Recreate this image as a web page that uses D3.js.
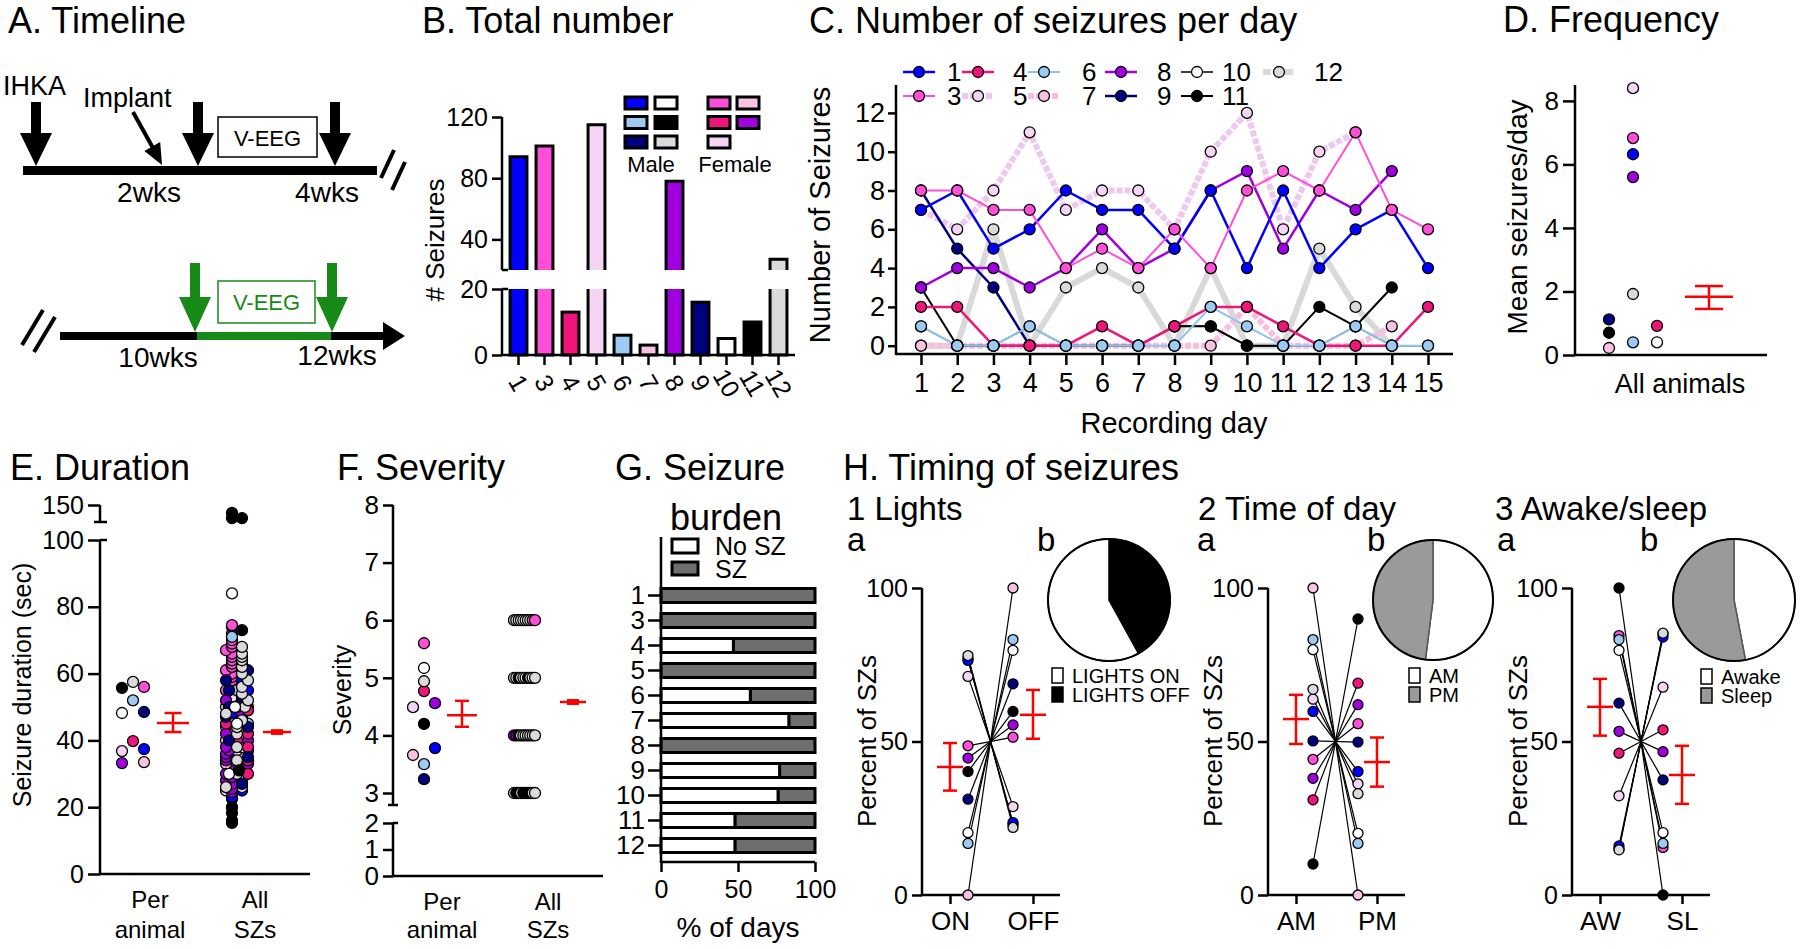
<!DOCTYPE html>
<html>
<head>
<meta charset="utf-8">
<script src="https://cdn.jsdelivr.net/npm/d3@7"></script>
<style>
html,body{margin:0;padding:0;background:#fff;}
svg{display:block;}
</style>
</head>
<body>
<svg id="chart" width="1800" height="949"></svg>
<script>
// ================= DATA =================
const animals = ["1","3","4","5","6","7","8","9","10","11","12"];
const animalColors = ["#0000ff","#ff4fd8","#f0157a","#f4d6f4","#9ccaf2","#f8c2e2","#a000e0","#00007f","#ffffff","#000000","#dadada"];
const maleCol1 = ["1","6","9"], maleCol2 = ["10","11","12"];
const femaleCol1 = ["3","4","5"], femaleCol2 = ["7","8"];

// B. total number of seizures per animal
const totalSeizures = [94,101,13,115,6,3,78,16,5,10,27];
const totalTicksLow = [0,20];
const totalTicksHigh = [40,80,120];

// C. seizures per recording day
const recordingDays = [1,2,3,4,5,6,7,8,9,10,11,12,13,14,15];
const sz1  = [7,8,5,6,8,7,7,5,8,4,8,4,6,7,4];
const sz3  = [8,8,7,7,4,5,4,6,4,8,9,8,11,7,6];
const sz4  = [2,2,0,0,0,1,0,1,2,2,1,0,0,0,2];
const sz5  = [7,6,8,11,7,8,8,6,10,12,6,10,11];
const sz6  = [1,0,0,1,0,0,0,0,2,1,0,0,1,0,0];
const sz7  = [0,0,0,0,0,0,0,0,0,2,0,0,0,1];
const sz8  = [3,4,4,3,4,6,4,5,8,9,5,8,7,9];
const sz9  = [8,5,3,0];
const sz10 = [1,0,0,1,0,0,0,1,1,0,0,0,1,0,0];
const sz11 = [3,0,0,0,0,0,0,1,1,0,0,2,1,3];
const sz12 = [0,0,6,0,3,4,3,0,4,0,0,5,2,0];
const perDayTicks = [0,2,4,6,8,10,12];

// D. mean seizures per day
const freqPerDay = [6.32,6.83,0.92,8.4,0.4,0.22,5.6,1.12,0.4,0.7,1.92];
const freqColumn = [0,0,1,0,0,-1,0,-1,1,-1,0];
const freqMeanSem = [1.83,1.45,2.17];

// E. duration (sec)
const durPerAnimal = [37.4,56.0,39.8,36.8,52,33.5,33.2,48.5,48.2,55.7,57.5];
const durPerAnimalColumn = [1,1,0,-1,0,1,-1,1,-1,-1,0];
const durPerAnimalMeanSem = [45.2,42.5,48.2];
const durAllMeanSem = [42.5,42.0,43.0];
const durAll1  = [22.5,23,25,28,30,31,33,34,35,36,37,38,39,40,41,42,44,46,48,50,52,55,58];
const durAll3  = [40,44,47,50,52,54,55,56,57,58,59,60,61,62,63,64,65,66,67,68,69,70,72,74,74.5];
const durAll4  = [30,34,38,40,42,45,49];
const durAll5  = [26,28,30,32,33,34,35,36,37,38,39,40,41,42,43,44,45,47,50,53];
const durAll6  = [45,50,55,71];
const durAll7  = [25,33,43];
const durAll8  = [24.5,25.5,27,28,29,30,31,32,33,34,35,36,37,38,40,42,45,48,50,52];
const durAll9  = [27,35,40,44,47,50,53,55,58,61,63];
const durAll10 = [30,45,50,84];
const durAll11 = [15.3,16,18.3,20,31,73,127,136,127];
const durAll12 = [26,30,34,38,42,44,46,48,50,52,54,56,58,60,62,64,65,66,68];

// F. severity
const sevPerAnimal = [3.78,5.6,4.77,4.49,3.5,3.66,4.56,3.24,5.17,4.2,4.94];
const sevPerAnimalColumn = [1,0,0,-1,0,-1,1,0,0,0,0];
const sevPerAnimalMeanSem = [4.35,4.15,4.6];
const sevAllMeanSem = [4.58,4.55,4.61];
const sevLevels = [6,5,4,3];
const sevRow6 = ["12","10","12","10","10","12","10","10","3","3"];
const sevRow5 = ["12","10","11","10","12","10","11","12","10","12"];
const sevRow4 = ["8","8","11","10","12","10","12","10","12","12"];
const sevRow3 = ["12","11","11","12","11","11","11","11","12","12"];

// G. seizure burden (% of days without seizures)
const noSzPct = [0,0,47,0,58,83,0,77,76,48,48];

// H. timing
const lightsOnPct  = [76.4,48.6,77,71.2,16.8,0,44.6,31.2,20.3,40.2,78];
const lightsOffPct = [23.6,51.4,23,28.8,83.2,100,55.4,68.8,79.7,59.8,22];
const amPct = [59.8,44.2,31,63.8,83.2,100,38,50.2,79.9,10.1,67];
const pmPct = [40.2,55.8,69,36.2,16.8,0,62,49.8,20.1,89.9,33];
const awakePct = [16,84.5,46.2,32.3,83.2,15,53.3,62.5,79.7,100,14.7];
const sleepPct = [84,15.5,53.8,67.7,16.8,85,46.7,37.5,20.3,0,85.3];
const lightsMeanSem = [[41.7,34,49.5],[58.7,50.9,66.8]];
const amPmMeanSem = [[57.3,49.2,65.2],[43.3,35.3,51.3]];
const awSlMeanSem = [[61.3,51.9,70.4],[39.1,29.7,48.6]];
const lightsPie = [42,58];   // OFF, ON
const amPmPie = [52,48];     // AM, PM
const awSlPie = [47,53];     // Awake, Sleep

// ================= DRAWING =================
const FONT = '"Liberation Sans", Arial, Helvetica, sans-serif';
const svg = d3.select('#chart').attr('font-family', FONT);
svg.append('rect').attr('width',1800).attr('height',949).attr('fill','#fff');
const colorOf = id => animalColors[animals.indexOf(id)];
const GREEN = '#178a17';

function T(x,y,s,size,o={}){
  const t = svg.append('text').attr('x',x).attr('y',y).attr('font-size',size)
    .attr('fill',o.fill||'#000').text(s);
  if(o.anchor) t.attr('text-anchor',o.anchor);
  return t;
}
function TR(cx,cy,s,size){
  return svg.append('text').attr('transform',`translate(${cx},${cy}) rotate(-90)`)
    .attr('text-anchor','middle').attr('dy','0.35em').attr('font-size',size).text(s);
}
function L(x1,y1,x2,y2,w=2.5,c='#000'){
  return svg.append('line').attr('x1',x1).attr('y1',y1).attr('x2',x2).attr('y2',y2)
    .attr('stroke',c).attr('stroke-width',w);
}
function R(x,y,w,h,fill,stroke='#000',sw=3){
  return svg.append('rect').attr('x',x).attr('y',y).attr('width',w).attr('height',h)
    .attr('fill',fill).attr('stroke',stroke).attr('stroke-width',sw);
}
function styleAxis(g,size){
  g.select('.domain').remove();
  g.selectAll('.tick line').attr('stroke','#000').attr('stroke-width',2.5);
  g.selectAll('.tick text').attr('font-size',size).attr('font-family',FONT).attr('fill','#000');
  return g;
}
function leftAxis(x,scale,ticks,len,size,pad=4){
  const g = svg.append('g').attr('transform',`translate(${x},0)`)
    .call(d3.axisLeft(scale).tickValues(ticks).tickSize(len).tickPadding(pad).tickFormat(d3.format('d')));
  return styleAxis(g,size);
}
function bottomAxis(y,scale,len,size,pad,ticks){
  const ax = d3.axisBottom(scale).tickSize(len).tickPadding(pad);
  if(ticks) ax.tickValues(ticks);
  const g = svg.append('g').attr('transform',`translate(0,${y})`).call(ax);
  return styleAxis(g,size);
}
function dot(x,y,r,fill){
  return svg.append('circle').attr('cx',x).attr('cy',y).attr('r',r).attr('fill',fill)
    .attr('stroke','#000').attr('stroke-width',1.3);
}
function meanSem(cx,yS,ms,hw,cw){
  const [m,lo,hi] = ms;
  L(cx-hw,yS(m),cx+hw,yS(m),2.5,'#ff0000');
  L(cx,yS(lo),cx,yS(hi),2.5,'#ff0000');
  L(cx-cw,yS(lo),cx+cw,yS(lo),2.5,'#ff0000');
  L(cx-cw,yS(hi),cx+cw,yS(hi),2.5,'#ff0000');
}

// ---------- A. Timeline ----------
T(8,33,'A. Timeline',36);
function downArrow(cx,top,headTop,tip,sw,hw,color){
  svg.append('path').attr('d',`M${cx-sw/2},${top}H${cx+sw/2}V${headTop}H${cx+hw}L${cx},${tip}L${cx-hw},${headTop}H${cx-sw/2}Z`).attr('fill',color);
}
svg.append('rect').attr('x',23).attr('y',166).attr('width',354).attr('height',9).attr('fill','#000');
downArrow(36,102,133,166,10,16,'#000');
downArrow(198,102,133,166,10,16,'#000');
downArrow(335,102,133,166,10,16,'#000');
L(133,112,153,148,4);
svg.append('path').attr('d','M162,165 L144.4,150.9 L160.2,142.1 Z').attr('fill','#000');
R(218,117,99,40,'#fff','#000',1.5);
T(267.5,145.5,'V-EEG',22,{anchor:'middle'});
T(3,95,'IHKA',27);
T(83,107,'Implant',27);
T(149,202,'2wks',28,{anchor:'middle'});
T(327,202,'4wks',28,{anchor:'middle'});
L(394,150,381,178,4); L(405,162,392,190,4);
// lower timeline
L(43,310,22,345,4); L(55,317,34,352,4);
svg.append('rect').attr('x',60).attr('y',332).attr('width',137).attr('height',8).attr('fill','#000');
svg.append('rect').attr('x',197).attr('y',332).attr('width',134).attr('height',8).attr('fill',GREEN);
svg.append('rect').attr('x',331).attr('y',332).attr('width',53).attr('height',8).attr('fill','#000');
svg.append('path').attr('d','M383,322 L405,336 L383,350 Z').attr('fill','#000');
downArrow(195,263,297,332,10,16,GREEN);
downArrow(332,263,297,332,10,16,GREEN);
R(218,281,97,42,'#fff',GREEN,1.5);
T(266.5,310,'V-EEG',22,{anchor:'middle',fill:GREEN});
T(158,367,'10wks',28,{anchor:'middle'});
T(337,365,'12wks',28,{anchor:'middle'});

// ---------- B. Total number ----------
T(422,33,'B. Total number',36);
const xB = d3.scaleBand().domain(animals).range([505.5,791.5]).paddingInner(0.35).paddingOuter(0.175);
const yBlo = d3.scaleLinear([0,20],[355,289]);
const yBhi = d3.scaleLinear([20,120],[270,117]);
animals.forEach((a,i)=>{
  const v = totalSeizures[i], x = xB(a), w = xB.bandwidth();
  const top = yBlo(Math.min(v,20));
  svg.append('rect').attr('x',x).attr('y',top).attr('width',w).attr('height',355-top).attr('fill',colorOf(a));
  if(v>20){
    svg.append('path').attr('d',`M${x},${top}V355H${x+w}V${top}`).attr('fill','none').attr('stroke','#000').attr('stroke-width',3);
    const t2 = yBhi(v);
    svg.append('rect').attr('x',x).attr('y',t2).attr('width',w).attr('height',270-t2).attr('fill',colorOf(a));
    svg.append('path').attr('d',`M${x},270V${t2}H${x+w}V270`).attr('fill','none').attr('stroke','#000').attr('stroke-width',3);
  } else {
    R(x,top,w,355-top,colorOf(a));
  }
});
L(502,117,502,270); L(502,289,502,356);
L(502,270,508,270); L(502,289,508,289);
L(502,355,795,355);
leftAxis(502,yBlo,totalTicksLow,10,25);
leftAxis(502,yBhi,totalTicksHigh,10,25);
{
  const g = bottomAxis(355,xB,10,25,0);
  g.selectAll('.tick text').attr('y',0).attr('dy','0.35em').attr('text-anchor','middle')
    .attr('transform','translate(0,28) rotate(60)');
}
TR(435,240,'# Seizures',26);
function swatch(x,y,id){ R(x,y,22,12,colorOf(id),'#000',3); }
maleCol1.forEach((id,i)=>swatch(625,97+i*19.5,id));
maleCol2.forEach((id,i)=>swatch(655,97+i*19.5,id));
femaleCol1.forEach((id,i)=>swatch(708,97+i*19.5,id));
femaleCol2.forEach((id,i)=>swatch(737,97+i*19.5,id));
T(651,172,'Male',22,{anchor:'middle'});
T(735,172,'Female',22,{anchor:'middle'});

// ---------- C. Number of seizures per day ----------
T(809,33,'C. Number of seizures per day',36);
const xC = d3.scalePoint().domain(recordingDays).range([921,1428]);
const yC = d3.scaleLinear([0,13.4],[345.7,345.7-13.4*19.4]);
L(896,85,896,355); L(896,354,1453,354);
leftAxis(896,yC,perDayTicks,8,27,3);
bottomAxis(354,xC,11,27,8);
TR(820,215,'Number of Seizures',29);
T(1174,433,'Recording day',29,{anchor:'middle'});
const lineStyle = {
  '1':['#0000ff',2.5,null], '3':['#ff4fd8',2,null], '4':['#f0157a',2.5,null],
  '5':['#efc8ef',6,'6 2'], '6':['#8ec4f0',2,null], '7':['#f9bddf',6,'6 2'],
  '8':['#a000e0',2.5,null], '9':['#00007f',2.5,null], '10':['#000000',1.5,null],
  '11':['#000000',2,null], '12':['#d9d9d9',6,null]
};
const cSeries = [['12',sz12],['5',sz5],['7',sz7],['10',sz10],['11',sz11],['9',sz9],['8',sz8],['1',sz1],['3',sz3],['4',sz4],['6',sz6]];
const lineC = d3.line().x((d,i)=>xC(recordingDays[i])).y(d=>yC(d));
cSeries.forEach(([id,vals])=>{
  const [c,w,da] = lineStyle[id];
  const p = svg.append('path').attr('d',lineC(vals)).attr('fill','none').attr('stroke',c).attr('stroke-width',w).attr('stroke-linejoin','round');
  if(da) p.attr('stroke-dasharray',da);
});
cSeries.forEach(([id,vals])=>{
  vals.forEach((v,i)=>dot(xC(recordingDays[i]),yC(v),5.5,colorOf(id)));
});
// legend
const legRow1 = ['1','4','6','8','10','12'], legRow2 = ['3','5','7','9','11'];
const legCx = [919,978,1044,1121,1197,1279], legTx = [947,1013,1082,1157,1222,1314];
[[legRow1,72],[legRow2,96]].forEach(([row,y])=>{
  row.forEach((id,j)=>{
    const [c,w,da] = lineStyle[id];
    const l = L(legCx[j]-16,y,legCx[j]+16,y,Math.min(w,6),c);
    if(id==='12') l.attr('stroke-dasharray','8 3');
    else if(da) l.attr('stroke-dasharray',da);
    dot(legCx[j],y,5.5,colorOf(id));
    T(legTx[j],y,id,26).attr('dy','0.36em');
  });
});

// ---------- D. Frequency ----------
T(1503,32,'D. Frequency',36);
const yD = d3.scaleLinear([0,8.5],[355,85]);
L(1575,85,1575,355); L(1575,355,1767,355);
leftAxis(1575,yD,[0,2,4,6,8],12,26);
TR(1517,217,'Mean seizures/day',28);
T(1680,393,'All animals',27,{anchor:'middle'});
animals.forEach((a,i)=>dot(1633+freqColumn[i]*24,yD(freqPerDay[i]),5.5,colorOf(a)));
meanSem(1709,yD,freqMeanSem,24,14);

// ---------- E. Duration ----------
T(10,480,'E. Duration',36);
const yElo = d3.scaleLinear([0,100],[874,540]);
const yEhi = d3.scaleLinear([120,150],[522,505]);
const yE = v => v>110 ? yEhi(v) : yElo(v);
L(100,540,100,875); L(100,505,100,522); L(100,874,310,874);
L(94,522,107,522); L(100,540,107,540);
leftAxis(100,yElo,[0,20,40,60,80,100],12,25);
leftAxis(100,yEhi,[150],12,25);
TR(22,685,'Seizure duration (sec)',25);
T(150,908,'Per',24,{anchor:'middle'}); T(150,938,'animal',24,{anchor:'middle'});
T(255,908,'All',24,{anchor:'middle'}); T(255,938,'SZs',24,{anchor:'middle'});
animals.forEach((a,i)=>dot(133+durPerAnimalColumn[i]*11,yElo(durPerAnimal[i]),5.5,colorOf(a)));
meanSem(173,yElo,durPerAnimalMeanSem,16,8.5);
{
  const groups = [['3',durAll3],['1',durAll1],['5',durAll5],['7',durAll7],['8',durAll8],['4',durAll4],['6',durAll6],
                  ['9',durAll9],['12',durAll12],['10',durAll10],['11',durAll11]];
  const pts = [];
  groups.forEach(([id,vals])=>vals.forEach(v=>pts.push({id,v})));
  const offs = [-5,5,-11,11,0,-8,8,-2,2];
  const counts = new Map();
  pts.slice().sort((a,b)=>a.v-b.v).forEach(p=>{
    p.y = yE(p.v);
    const b = Math.round(p.y/4);
    const c = counts.get(b)||0; counts.set(b,c+1);
    p.x = 237 + offs[c%offs.length];
  });
  pts.forEach(p=>dot(p.x,p.y,5.5,colorOf(p.id)));
}
meanSem(277,yElo,durAllMeanSem,14,6);

// ---------- F. Severity ----------
T(337,480,'F. Severity',36);
const yFhi = d3.scaleLinear([3,8],[793,505]);
const yFlo = d3.scaleLinear([0,2],[876,823]);
L(393,505,393,805); L(393,823,393,877); L(393,876,603,876);
L(388,805,398,805); L(393,823,398,823);
leftAxis(393,yFhi,[3,4,5,6,7,8],10,26);
leftAxis(393,yFlo,[0,1,2],10,26);
TR(342,690,'Severity',25);
T(442,910,'Per',24,{anchor:'middle'}); T(442,938,'animal',24,{anchor:'middle'});
T(548,910,'All',24,{anchor:'middle'}); T(548,938,'SZs',24,{anchor:'middle'});
animals.forEach((a,i)=>dot(424+sevPerAnimalColumn[i]*11,yFhi(sevPerAnimal[i]),5.5,colorOf(a)));
meanSem(462,yFhi,sevPerAnimalMeanSem,15,7);
[sevRow6,sevRow5,sevRow4,sevRow3].forEach((row,k)=>{
  const lvl = sevLevels[k];
  row.forEach((id,i)=>dot(514+i*21/(row.length-1),yFhi(lvl),5.5,colorOf(id)));
});
meanSem(573,yFhi,sevAllMeanSem,13,6);

// ---------- G. Seizure burden ----------
T(615,480,'G. Seizure',36);
T(670,530,'burden',36);
const xG = d3.scaleLinear([0,100],[661,815]);
const yG = d3.scaleBand().domain(animals).range([583,858]).paddingInner(0.44).paddingOuter(0.22);
animals.forEach((a,i)=>{
  const y = yG(a), h = yG.bandwidth();
  R(xG(noSzPct[i]),y,xG(100)-xG(noSzPct[i]),h,'#6e6e6e','#000',3);
  if(noSzPct[i]>0) R(xG(0),y,xG(noSzPct[i])-xG(0),h,'#fff','#000',3);
});
L(661,537,661,863); L(661,862,815,862);
{
  const g = svg.append('g').attr('transform','translate(661,0)')
    .call(d3.axisLeft(yG).tickSize(13).tickPadding(3));
  styleAxis(g,26);
}
bottomAxis(862,xG,10,25,8,[0,50,100]);
T(738,937,'% of days',28,{anchor:'middle'});
R(672,539,26,14,'#fff','#000',3);
R(672,562,26,13,'#6e6e6e','#000',3);
T(715,555,'No SZ',25); T(715,578,'SZ',25);

// ---------- H. Timing of seizures ----------
T(843,480,'H. Timing of seizures',36);
const drawOrder = ["4","7","5","3","8","1","9","6","10","11","12"];
function drawH(o){
  T(o.subX,520,o.sub,33); T(o.aX,551,'a',33); T(o.bX,551,'b',33);
  const y = d3.scaleLinear([0,100],[895,588]);
  L(o.ax,588,o.ax,896); L(o.ax,895,o.xEnd,895);
  leftAxis(o.ax,y,[0,50,100],10,25);
  const xs = d3.scalePoint().domain(o.cats).range([o.t1,o.t2]);
  bottomAxis(895,xs,9,26,8);
  TR(o.yl,741,'Percent of SZs',26);
  drawOrder.forEach(a=>{ const i = animals.indexOf(a); L(o.p1,y(o.left[i]),o.p2,y(o.right[i]),1.2); });
  drawOrder.forEach(a=>{ const i = animals.indexOf(a);
    dot(o.p1,y(o.left[i]),5,colorOf(a)); dot(o.p2,y(o.right[i]),5,colorOf(a)); });
  meanSem(o.t1,y,o.ms[0],13,7);
  meanSem(o.t2,y,o.ms[1],13,7);
  const arcs = d3.pie().sort(null)(o.pie);
  const arc = d3.arc().innerRadius(0).outerRadius(o.r);
  const g = svg.append('g').attr('transform',`translate(${o.cx},${o.cy})`);
  g.selectAll('path').data(arcs).join('path').attr('d',arc)
    .attr('fill',(d,i)=>o.pieColors[i]).attr('stroke',o.sliceStroke).attr('stroke-width',1.5);
  g.append('circle').attr('r',o.r).attr('fill','none').attr('stroke','#000').attr('stroke-width',2);
  o.legend.forEach((s,i)=>{
    R(o.lx,o.ly+i*19,11,15,o.legColors[i],'#000',1.5);
    T(o.lx+20,o.ly+15+i*19,s,20);
  });
}
drawH({sub:'1 Lights',subX:847,aX:847,bX:1037,ax:922,xEnd:1060,cats:['ON','OFF'],t1:950,t2:1033,
  p1:968,p2:1013,yl:867,left:lightsOnPct,right:lightsOffPct,ms:lightsMeanSem,
  pie:lightsPie,pieColors:['#000','#fff'],sliceStroke:'#000',cx:1109,cy:600,r:61,
  legend:['LIGHTS ON','LIGHTS OFF'],legColors:['#fff','#000'],lx:1052,ly:668});
drawH({sub:'2 Time of day',subX:1198,aX:1197,bX:1367,ax:1268,xEnd:1405,cats:['AM','PM'],t1:1296,t2:1377,
  p1:1313,p2:1358,yl:1213,left:amPct,right:pmPct,ms:amPmMeanSem,
  pie:amPmPie,pieColors:['#fff','#9a9a9a'],sliceStroke:'#555',cx:1433,cy:600,r:60,
  legend:['AM','PM'],legColors:['#fff','#9a9a9a'],lx:1409,ly:668});
drawH({sub:'3 Awake/sleep',subX:1495,aX:1497,bX:1640,ax:1572,xEnd:1710,cats:['AW','SL'],t1:1600,t2:1682,
  p1:1619,p2:1663,yl:1518,left:awakePct,right:sleepPct,ms:awSlMeanSem,
  pie:awSlPie,pieColors:['#fff','#9a9a9a'],sliceStroke:'#555',cx:1734,cy:600,r:61,
  legend:['Awake','Sleep'],legColors:['#fff','#9a9a9a'],lx:1701,ly:669});
</script>
</body>
</html>
